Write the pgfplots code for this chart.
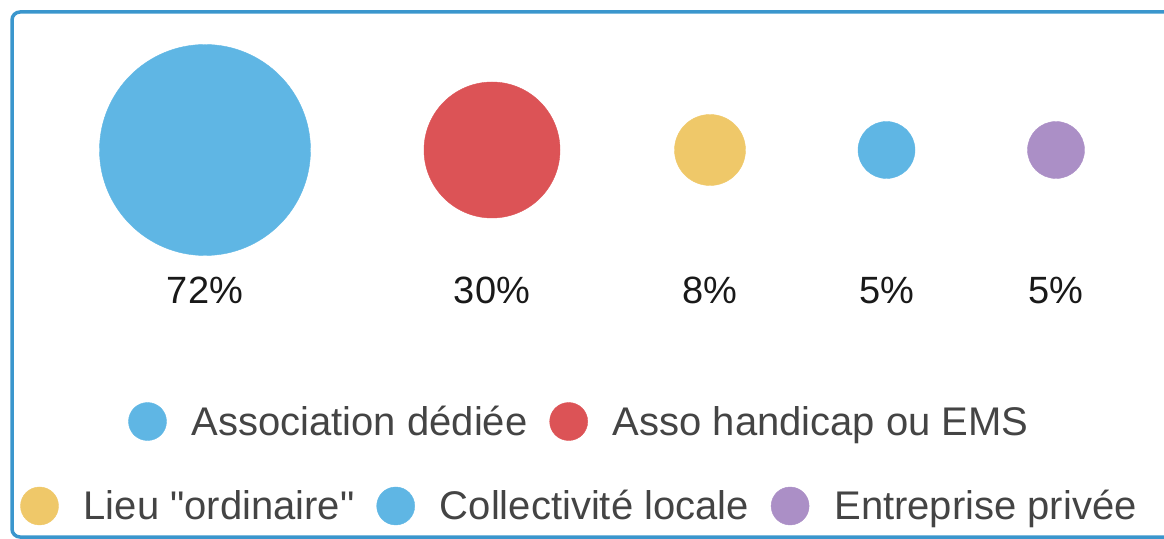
\documentclass[border=0pt]{standalone}
\usepackage{fontspec}
\setmainfont{Liberation Sans}
\setmonofont{Liberation Sans}
\usepackage{pgfplots}
\pgfplotsset{compat=1.18}
\definecolor{cblue}{RGB}{95,182,228}
\definecolor{cred}{RGB}{220,83,86}
\definecolor{cyellow}{RGB}{239,200,105}
\definecolor{cpurple}{RGB}{171,143,198}
\definecolor{bordercol}{RGB}{58,150,205}
\definecolor{labcol}{RGB}{25,25,25}
\definecolor{legcol}{RGB}{68,68,68}
\newcommand{\dq}{{\ttfamily\symbol{34}}}
\pgfplotsset{
  base/.style={width=1164pt,height=538pt,scale only axis,
    xmin=0,xmax=1164,ymin=0,ymax=538,hide axis,clip=false,
    at={(0pt,0pt)},anchor=origin,
    /pgf/number format/assume math mode=true,
    legend columns=-1,
    legend style={draw=none,fill=none,font=\fontsize{40}{48}\selectfont,
      text=legcol,anchor=center,
      nodes={inner sep=0pt},
      /tikz/every odd column/.append style={column sep=25pt},
      /tikz/every even column/.append style={column sep=22pt}}},
  bubble/.style={scatter, only marks, mark=*,
    visualization depends on={\thisrow{r}\as\rad},
    scatter/@pre marker code/.code={\scope[mark size=\rad,draw=#1,fill=#1]},
    scatter/@post marker code/.code={\endscope},
    legend image code/.code={\fill[#1] (0pt,0pt) circle[radius=19pt];}},
  pct/.style={forget plot, only marks, mark=none,
    point meta=\thisrow{v},
    nodes near coords={\pgfmathprintnumber{\pgfplotspointmeta}\%},
    every node near coord/.append style={anchor=center,yshift=-140.5pt,
      font=\fontsize{38}{44}\selectfont,text=labcol}},
}
\pgfplotstableread{
x y v r
205 388 72 105.5
}\tA
\pgfplotstableread{
x y v r
492 388 30 68
}\tB
\pgfplotstableread{
x y v r
710 388 8 35.5
}\tC
\pgfplotstableread{
x y v r
886.5 388 5 28.5
}\tD
\pgfplotstableread{
x y v r
1056 388 5 28.5
}\tE
\begin{document}
\begin{tikzpicture}
\begin{axis}[base,legend style={at={(0.497,0.2165)}}]
\addplot[bubble=cblue] table {\tA};
\addlegendentry{Association dédiée}
\addplot[pct] table {\tA};
\addplot[bubble=cred] table {\tB};
\addlegendentry{Asso handicap ou EMS}
\addplot[pct] table {\tB};
\end{axis}
\begin{axis}[base,legend style={at={(0.497,0.0595)}}]
\addplot[bubble=cyellow] table {\tC};
\addlegendentry{Lieu \dq ordinaire\dq}
\addplot[pct] table {\tC};
\addplot[bubble=cblue] table {\tD};
\addlegendentry{Collectivité locale}
\addplot[pct] table {\tD};
\addplot[bubble=cpurple] table {\tE};
\addlegendentry{Entreprise privée}
\addplot[pct] table {\tE};
\end{axis}
\draw[bordercol, line width=3.5pt, rounded corners=8pt] (12pt,1pt) rectangle (1190pt,526pt);
\pgfresetboundingbox
\useasboundingbox (0pt,0pt) rectangle (1164pt,538pt);
\end{tikzpicture}
\end{document}
